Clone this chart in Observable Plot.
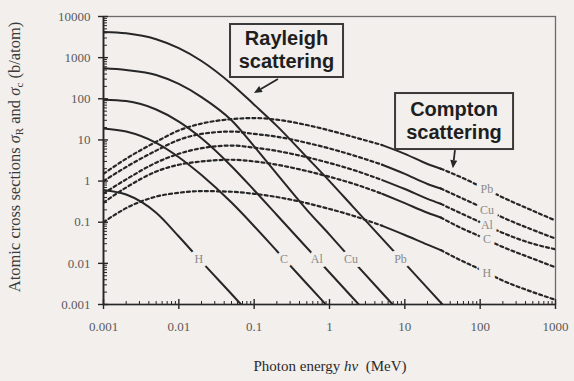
<!DOCTYPE html>
<html><head><meta charset="utf-8">
<script src="https://cdn.jsdelivr.net/npm/d3@7"></script>
<script src="https://cdn.jsdelivr.net/npm/@observablehq/plot@0.6"></script>
<style>
body{margin:0;background:#f2efec;}
#chart svg{display:block;background:#f2efec;}
</style></head><body><div id="chart"></div>
<script>
// ---- data (b/atom vs MeV) ----
const elements = ["H","C","Al","Cu","Pb"];

const rayleighEnergy = [0.001,0.002,0.005,0.01,0.02,0.05,0.1,0.2,0.5,1,2,5,10,20,50];
const rayleighH  = [0.6,0.47,0.17,0.045,0.011,0.0018,0.00045];
const rayleighC  = [19,16,8.5,3.8,1.4,0.3,0.08,0.02,0.0032,0.0008];
const rayleighAl = [95,88,55,28,11,2.3,0.6,0.15,0.024,0.006,0.0015,0.00024];
const rayleighCu = [550,500,380,230,110,30,7,1.5,0.2,0.05,0.012,0.0019,0.00048];
const rayleighPb = [4200,3900,2800,1700,830,230,72,22,3.8,1.0,0.25,0.04,0.01,0.0025,0.0004];

const comptonEnergy = [0.001,0.002,0.005,0.01,0.02,0.05,0.1,0.2,0.5,1,2,5,10,20,30,50,100,200,500,1000];
const comptonH  = [0.1,0.22,0.42,0.52,0.57,0.55,0.49,0.41,0.29,0.21,0.146,0.082,0.049,0.0285,0.021,0.013,0.0071,0.0038,0.002,0.0013];
const comptonC  = [0.3,0.7,1.7,2.5,3.0,3.3,3.0,2.5,1.75,1.27,0.88,0.49,0.29,0.17,0.13,0.08,0.045,0.025,0.013,0.008];
const comptonAl = [0.5,1.1,2.8,4.6,6.3,7.3,6.5,5.4,3.8,2.75,1.9,1.06,0.64,0.37,0.28,0.18,0.1,0.055,0.03,0.022];
const comptonCu = [1.0,2.2,5.5,10,14,16,14,12,8.5,6.2,4.3,2.5,1.5,0.85,0.66,0.43,0.24,0.13,0.065,0.04];
const comptonPb = [1.5,3.5,9,17,25,32,34,31,23,17,12,7.5,4.6,2.6,2.0,1.35,0.75,0.4,0.19,0.11];
const comptonSolidFrom = 5, comptonSolidTo = 30;   // MeV range drawn solid

const rayleighLabelLevel = 0.013;   // labels sit where curves cross this value
const comptonLabelEnergy = 123;     // MeV

const xTicks = [0.001,0.01,0.1,1,10,100,1000];
const xTickLabels = ["0.001","0.01","0.1","1","10","100","1000"];
const yTicks = [0.001,0.01,0.1,1,10,100,1000,10000];
const yTickLabels = ["0.001","0.01","0.1","1","10","100","1000","10000"];

const annotations = [
  {lines:["Rayleigh","scattering"], E:0.273, s:1450, w:113, h:53, fromE:0.21, fromS:294, toE:0.101, toS:134},
  {lines:["Compton","scattering"], E:45.7, s:28, w:118, h:56, fromE:47, fromS:5.5, toE:44, toS:2.0}
];

// ---- build tables ----
const rayleighSeries = {H:rayleighH, C:rayleighC, Al:rayleighAl, Cu:rayleighCu, Pb:rayleighPb};
const comptonSeries = {H:comptonH, C:comptonC, Al:comptonAl, Cu:comptonCu, Pb:comptonPb};

const rayleighRows = [];
for (const el of elements) rayleighSeries[el].forEach((v,i)=>rayleighRows.push({key:"R"+el, E:rayleighEnergy[i], s:v}));

const comptonDotted = [], comptonSolid = [];
for (const el of elements) comptonSeries[el].forEach((v,i)=>{
  const E = comptonEnergy[i];
  if (E <= comptonSolidFrom) comptonDotted.push({key:"Clow"+el, E, s:v});
  if (E >= comptonSolidTo) comptonDotted.push({key:"Chigh"+el, E, s:v});
  if (E >= comptonSolidFrom && E <= comptonSolidTo) comptonSolid.push({key:"Cmid"+el, E, s:v});
});

function crossing(Es, vals, level) {
  const L = Math.log10(level);
  for (let i=0;i<vals.length-1;i++){
    const a=Math.log10(vals[i]), b=Math.log10(vals[i+1]);
    if (a>=L && b<=L){ const t=(L-a)/(b-a); return 10**(Math.log10(Es[i])+t*(Math.log10(Es[i+1])-Math.log10(Es[i]))); }
  }
}
function valueAt(Es, vals, E) {
  const L = Math.log10(E);
  for (let i=0;i<vals.length-1;i++){
    const a=Math.log10(Es[i]), b=Math.log10(Es[i+1]);
    if (a<=L && b>=L){ const t=(L-a)/(b-a); return 10**(Math.log10(vals[i])+t*(Math.log10(vals[i+1])-Math.log10(vals[i]))); }
  }
}
const rayleighLabels = elements.map(el=>({text:el, E:crossing(rayleighEnergy, rayleighSeries[el], rayleighLabelLevel), s:rayleighLabelLevel}));
const comptonLabels = elements.map(el=>({text:el, E:comptonLabelEnergy, s:valueAt(comptonEnergy, comptonSeries[el], comptonLabelEnergy)}));

const minor = (lo, hi) => { const r=[]; for (let d=lo; d<hi*0.99; d*=10) for (let k=2;k<=9;k++) r.push(+(d*k).toPrecision(3)); return r; };
const xMinor = minor(0.001, 1000), yMinor = minor(0.001, 10000);

const BG = "#f2efec", INK = "#262626";
const xFmt = d => xTickLabels[xTicks.findIndex(t => Math.abs(Math.log10(t/d)) < 1e-6)];
const yFmt = d => yTickLabels[yTicks.findIndex(t => Math.abs(Math.log10(t/d)) < 1e-6)];

const chart = Plot.plot({
  width: 574, height: 381,
  marginLeft: 103, marginRight: 19, marginTop: 16, marginBottom: 77,
  style: {background: BG, fontFamily: "Liberation Serif, serif"},
  x: {type:"log", domain:[0.001,1000]},
  y: {type:"log", domain:[0.001,10000]},
  marks: [
    Plot.frame({stroke:"#6a6a6a", strokeWidth:1.3}),
    Plot.line(rayleighRows, {x:"E", y:"s", z:"key", curve:"monotone-x", clip:true, stroke:INK, strokeWidth:2}),
    Plot.line(comptonDotted, {x:"E", y:"s", z:"key", curve:"monotone-x", clip:true, stroke:INK, strokeWidth:2.2, strokeDasharray:"3,3"}),
    Plot.line(comptonSolid, {x:"E", y:"s", z:"key", curve:"monotone-x", clip:true, stroke:INK, strokeWidth:2}),
    Plot.text(rayleighLabels, {x:"E", y:"s", text:"text", fill:"#8a8a8a", stroke:BG, strokeWidth:8, fontSize:12, fontFamily:"Liberation Serif"}),
    Plot.text(comptonLabels, {x:"E", y:"s", text:"text", fill:"#8a8a8a", stroke:BG, strokeWidth:8, fontSize:12, fontFamily:"Liberation Serif"}),
    // minor ticks (inward)
    Plot.axisX({ticks:xMinor, tickSize:3, dy:-3, tickFormat:()=>"", label:null, stroke:INK}),
    Plot.axisY({ticks:yMinor, tickSize:4, dx:4, tickFormat:()=>"", label:null, stroke:INK}),
    // major ticks (crossing)
    Plot.axisX({ticks:xTicks, tickSize:10, dy:-5, tickFormat:()=>"", label:null, stroke:INK, strokeWidth:1.4}),
    Plot.axisY({ticks:yTicks, tickSize:10, dx:5, tickFormat:()=>"", label:null, stroke:INK, strokeWidth:1.4}),
    // tick labels
    Plot.axisX({ticks:xTicks, tickSize:0, tickPadding:17, tickFormat:xFmt, label:null, fill:"#5a5a5a", fontSize:13}),
    Plot.axisY({ticks:yTicks, tickSize:0, tickPadding:13, tickFormat:yFmt, label:null, fill:"#5a5a5a", fontSize:13}),
    Plot.ruleX([0.001], {stroke:INK, strokeWidth:1.8}),
    Plot.ruleY([0.001], {stroke:INK, strokeWidth:1.6})
  ]
});
document.getElementById("chart").appendChild(chart);

// ---- annotations and titles ----
const svg = d3.select(chart);
const sx = chart.scale("x"), sy = chart.scale("y");
for (const a of annotations) {
  const cx = sx.apply(a.E), cy = sy.apply(a.s);
  const x1 = sx.apply(a.fromE), y1 = sy.apply(a.fromS), x2 = sx.apply(a.toE), y2 = sy.apply(a.toS);
  const ang = Math.atan2(y2-y1, x2-x1), hl = 8, hw = 3.5;
  const bx = x2 - hl*Math.cos(ang), by = y2 - hl*Math.sin(ang);
  svg.append("line").attr("x1",x1).attr("y1",y1).attr("x2",bx).attr("y2",by).attr("stroke",INK).attr("stroke-width",1.8);
  svg.append("polygon").attr("fill",INK).attr("points",[
    [x2,y2],[bx - hw*Math.sin(ang), by + hw*Math.cos(ang)],[bx + hw*Math.sin(ang), by - hw*Math.cos(ang)]
  ].map(p=>p.join(",")).join(" "));
  svg.append("rect").attr("x",cx-a.w/2).attr("y",cy-a.h/2).attr("width",a.w).attr("height",a.h)
    .attr("fill",BG).attr("stroke","#3a3a3a").attr("stroke-width",2);
  a.lines.forEach((t,i)=>svg.append("text").attr("x",cx).attr("y",cy-5.5+23*i).attr("text-anchor","middle")
    .attr("font-family","Liberation Sans, Arial, sans-serif").attr("font-weight","bold").attr("font-size",20)
    .attr("fill","#1e1e1e").text(t));
}

const xt = svg.append("text").attr("x",330).attr("y",371).attr("text-anchor","middle")
  .attr("font-family","Liberation Serif, serif").attr("font-size",15).attr("fill","#2a2a2a");
xt.append("tspan").text("Photon energy ");
xt.append("tspan").attr("font-style","italic").text("hν");
xt.append("tspan").text("  (MeV)");

const yt = svg.append("text").attr("transform","translate(20,157) rotate(-90)").attr("text-anchor","middle")
  .attr("font-family","Liberation Serif, serif").attr("font-size",16.5).attr("fill","#3a3a3a");
yt.append("tspan").text("Atomic cross sections ");
yt.append("tspan").attr("font-style","italic").text("σ");
yt.append("tspan").attr("font-size",11).attr("dy",3).text("R");
yt.append("tspan").attr("dy",-3).text(" and ");
yt.append("tspan").attr("font-style","italic").text("σ");
yt.append("tspan").attr("font-size",11).attr("dy",3).text("c");
yt.append("tspan").attr("dy",-3).text(" (b/atom)");
</script></body></html>
